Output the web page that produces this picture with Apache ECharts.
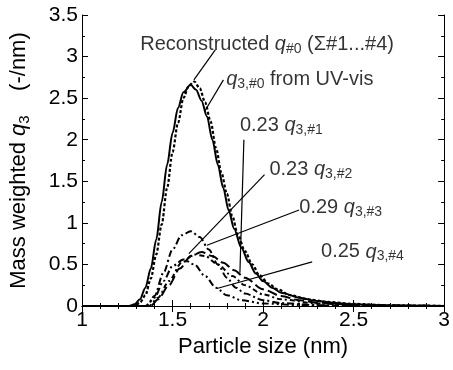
<!DOCTYPE html>
<html>
<head>
<meta charset="utf-8">
<script src="https://cdn.jsdelivr.net/npm/echarts@6/dist/echarts.min.js"></script>
<style>
  html, body { margin: 0; padding: 0; background: #fff; }
  #chart { width: 453px; height: 370px; }
</style>
</head>
<body>
<div id="chart"></div>
<script>
// q3,#0 from UV-vis (solid)
const uvX = [1, 1.26, 1.29, 1.32, 1.35, 1.38, 1.41, 1.44, 1.47, 1.5, 1.53, 1.56, 1.6, 1.63, 1.66, 1.69, 1.72, 1.75, 1.78, 1.81, 1.84, 1.88, 1.92, 1.96, 2, 2.05, 2.1, 2.2, 2.3, 2.4, 2.5, 2.7, 3]
const uvY = [0, 0, 0.02, 0.08, 0.22, 0.45, 0.8, 1.25, 1.7, 2.08, 2.38, 2.57, 2.66, 2.6, 2.47, 2.28, 2.0, 1.7, 1.42, 1.15, 0.93, 0.7, 0.53, 0.39, 0.3, 0.22, 0.16, 0.1, 0.06, 0.035, 0.02, 0.006, 0]
// reconstructed q#0 (dotted)
const recX = [1, 1.29, 1.32, 1.35, 1.38, 1.41, 1.44, 1.47, 1.5, 1.53, 1.56, 1.59, 1.62, 1.65, 1.68, 1.71, 1.74, 1.77, 1.8, 1.83, 1.86, 1.9, 1.94, 1.98, 2.03, 2.08, 2.15, 2.25, 2.35, 2.5, 2.7, 3]
const recY = [0, 0, 0.04, 0.13, 0.33, 0.62, 0.98, 1.42, 1.85, 2.2, 2.5, 2.65, 2.7, 2.62, 2.45, 2.22, 1.9, 1.6, 1.35, 1.08, 0.86, 0.66, 0.5, 0.37, 0.27, 0.2, 0.13, 0.08, 0.05, 0.025, 0.008, 0]
// scaled components
const c1X = [1, 1.36, 1.4, 1.45, 1.5, 1.55, 1.6, 1.65, 1.7, 1.75, 1.8, 1.85, 1.9, 2, 2.1, 2.3, 2.6, 3]
const c1Y = [0, 0, 0.12, 0.4, 0.68, 0.85, 0.9, 0.83, 0.68, 0.5, 0.34, 0.22, 0.15, 0.07, 0.035, 0.01, 0, 0]
const c2X = [1, 1.38, 1.42, 1.48, 1.54, 1.6, 1.66, 1.72, 1.78, 1.84, 1.9, 2, 2.1, 2.2, 2.3, 2.5, 2.8, 3]
const c2Y = [0, 0, 0.08, 0.25, 0.45, 0.6, 0.65, 0.6, 0.52, 0.43, 0.34, 0.2, 0.12, 0.07, 0.04, 0.015, 0.004, 0]
const c3X = [1, 1.35, 1.4, 1.45, 1.5, 1.56, 1.62, 1.68, 1.74, 1.8, 1.88, 2, 2.2, 2.5, 3]
const c3Y = [0, 0, 0.1, 0.3, 0.48, 0.56, 0.5, 0.36, 0.22, 0.13, 0.07, 0.03, 0.01, 0, 0]
const c4X = [1, 1.37, 1.42, 1.48, 1.55, 1.62, 1.68, 1.75, 1.83, 1.9, 2, 2.1, 2.3, 2.6, 3]
const c4Y = [0, 0, 0.1, 0.3, 0.52, 0.62, 0.6, 0.5, 0.36, 0.25, 0.14, 0.08, 0.03, 0.008, 0]

// leader lines [from, to]
const leaders = [
  [[1.736, 3.08], [1.618, 2.72]],
  [[1.781, 2.72], [1.677, 2.34]],
  [[1.894, 2.0], [1.872, 0.4]],
  [[2.008, 1.58], [1.59, 0.63]],
  [[2.199, 1.155], [1.69, 0.73]],
  [[2.271, 0.53], [1.745, 0.21]]
]
// annotation anchors (left edge, middle) and texts
const noteAt = [[1.322, 3.14], [1.796, 2.72], [1.872, 2.17], [2.035, 1.64], [2.2, 1.18], [2.32, 0.65]]
const noteText = [
  '{n|Reconstructed }{q|q}{s|#0}{n| (Σ#1...#4)}',
  '{q|q}{s|3,#0}{n| from UV-vis}',
  '{n|0.23 }{q|q}{s|3,#1}',
  '{n|0.23 }{q|q}{s|3,#2}',
  '{n|0.29 }{q|q}{s|3,#3}',
  '{n|0.25 }{q|q}{s|3,#4}'
]

const FONT = 'Liberation Sans'
const zip = (xs, ys) => xs.map((x, i) => [x, ys[i]])

const rich = {
  n: { fontSize: 20, fontFamily: FONT, color: '#000', lineHeight: 23 },
  q: { fontSize: 20, fontFamily: FONT, fontStyle: 'italic', color: '#000', lineHeight: 23 },
  s: { fontSize: 14, fontFamily: FONT, color: '#000', verticalAlign: 'bottom', lineHeight: 14 }
}

const curve = (data, type, width) => ({
  type: 'line',
  data: data,
  symbol: 'none',
  smooth: 0.3,
  smoothMonotone: 'x',
  lineStyle: { color: '#000', width: width, type: type },
  z: 3
})

const chart = echarts.init(document.getElementById('chart'))

const series = [
  curve(zip(uvX, uvY), 'solid', 2),
  curve(zip(recX, recY), [3, 2], 2.2),
  curve(zip(c1X, c1Y), [7, 3, 2, 3], 2),
  curve(zip(c2X, c2Y), [10, 4], 2),
  curve(zip(c3X, c3Y), [7, 3, 2, 3, 2, 3], 2),
  curve(zip(c4X, c4Y), [5, 3, 2, 3], 2)
]
leaders.forEach(l => {
  series.push({
    type: 'line',
    data: l,
    symbol: 'none',
    lineStyle: { color: '#000', width: 1.2 },
    z: 4
  })
})
series.push({
  type: 'scatter',
  data: noteAt,
  symbolSize: 0,
  z: 5,
  label: {
    show: true,
    position: 'right',
    distance: 0,
    formatter: p => noteText[p.dataIndex],
    rich: rich
  }
})

const tickCommon = {
  axisLine: { show: true, lineStyle: { color: '#000', width: 1 } },
  axisTick: { show: true, inside: true, length: 6, lineStyle: { color: '#000' } },
  splitLine: { show: false }
}
const xMinor = { show: true, splitNumber: 5, length: 3, lineStyle: { color: '#000' } }
const yMinor = { show: true, splitNumber: 2, length: 3, lineStyle: { color: '#000' } }

const option = {
  animation: false,
  grid: { left: 80, right: 6, top: 15, bottom: 64 },
  xAxis: [
    Object.assign({
      type: 'value', min: 1, max: 3, interval: 0.5, position: 'bottom',
      axisLabel: { fontSize: 21, fontFamily: FONT, color: '#000', margin: 4 },
      name: 'Particle size (nm)', nameLocation: 'middle', nameGap: 30,
      nameTextStyle: { fontSize: 22, fontFamily: FONT, color: '#000' },
      minorTick: xMinor
    }, tickCommon),
    Object.assign({
      type: 'value', min: 1, max: 3, interval: 0.5, position: 'top',
      axisLabel: { show: false },
      minorTick: xMinor
    }, tickCommon)
  ],
  yAxis: [
    Object.assign({
      type: 'value', min: 0, max: 3.5, interval: 0.5, position: 'left',
      axisLabel: { fontSize: 21, fontFamily: FONT, color: '#000', margin: 4 },
      name: '{n|Mass weighted }{q|q}{s|3}{n|    (-/nm)}', nameLocation: 'middle', nameGap: 50,
      nameTextStyle: {
        fontSize: 22, fontFamily: FONT, color: '#000',
        rich: {
          n: { fontSize: 22, fontFamily: FONT, color: '#000', lineHeight: 26 },
          q: { fontSize: 22, fontFamily: FONT, fontStyle: 'italic', color: '#000', lineHeight: 26 },
          s: { fontSize: 15, fontFamily: FONT, color: '#000', verticalAlign: 'bottom', lineHeight: 15 }
        }
      },
      minorTick: yMinor
    }, tickCommon),
    Object.assign({
      type: 'value', min: 0, max: 3.5, interval: 0.5, position: 'right',
      axisLabel: { show: false },
      minorTick: yMinor
    }, tickCommon)
  ],
  series: series
}

chart.setOption(option)
</script>
</body>
</html>
